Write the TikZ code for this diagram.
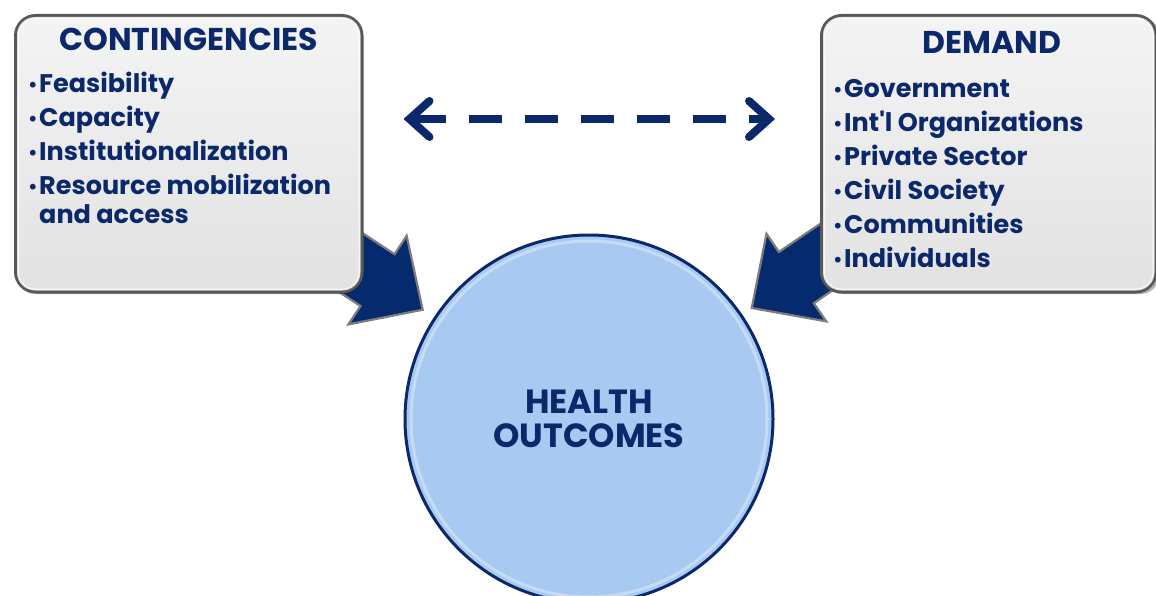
\documentclass[tikz,border=0pt]{standalone}
\usepackage{fontspec}
\setmainfont{Poppins}
\usetikzlibrary{arrows.meta,calc}
\definecolor{navy}{RGB}{10,40,106}
\definecolor{arrowfill}{RGB}{6,42,110}
\definecolor{arrowedge}{RGB}{125,125,125}
\definecolor{panelborder}{RGB}{88,88,88}
\definecolor{paneltop}{RGB}{244,244,244}
\definecolor{panelbot}{RGB}{226,226,226}
\definecolor{circfill}{RGB}{168,201,241}
\newcommand\bul{\llap{{\fontsize{19}{19}\selectfont\raisebox{1pt}{•}}\hspace{1.5pt}}}
\newcommand\firstline{\rule{0pt}{22pt}}
\begin{document}
\begin{tikzpicture}[x=1pt,y=1pt,
  txt/.style={text=navy},
  titlefont/.style={font=\bfseries\fontsize{31.5}{31.5}\selectfont},
  listfont/.style={font=\bfseries\fontsize{25.5}{34}\selectfont},
  panel/.style={draw=panelborder, line width=3.5pt, rounded corners=20pt,
    top color=paneltop, bottom color=panelbot, inner sep=0pt, anchor=north west},
  panelshadow/.style={fill=black, opacity=0.3, rounded corners=20pt},
  bevel/.style={draw=white, opacity=0.75, line width=2pt, rounded corners=17pt},
  fatarrow/.style={fill=arrowfill, draw=arrowedge, line width=2.2pt, line join=miter},
  hub/.style={circle, draw=navy, line width=3pt, fill=circfill, minimum size=368pt,
    text=navy, align=center, font=\bfseries\fontsize{33.5}{34}\selectfont},
  dasharrow/.style={draw=navy, line width=8pt, dash pattern=on 33pt off 23pt,
    {Straight Barb[length=20pt,width=36pt,line cap=round]}-{Straight Barb[length=20pt,width=36pt,line cap=round]}}
]
\useasboundingbox (0,0) rectangle (1156,-596);

\coordinate (hc) at (589,-419);

% fat arrows (behind the panels)
\coordinate (ltip) at ($(hc)+(146.7:199)$);
\coordinate (rtip) at ($(hc)+(34.3:197)$);
\begin{scope}[shift={(ltip)}, rotate=-33.3]
  \draw[fatarrow] (0,0) -- (-54,53) -- (-54,31) -- (-230,31) -- (-230,-31) -- (-54,-31) -- (-54,-53) -- cycle;
\end{scope}
\begin{scope}[shift={(rtip)}, rotate=214.3]
  \draw[fatarrow] (0,0) -- (-54,53) -- (-54,31) -- (-230,31) -- (-230,-31) -- (-54,-31) -- (-54,-53) -- cycle;
\end{scope}

% circle
\node[hub] (health) at (hc) {HEALTH\\OUTCOMES};
\draw[white, opacity=0.35, line width=3pt] (health.center) circle (178pt);

% panels
\fill[panelshadow] (16,-17) rectangle (363,-294);
\node[panel, minimum width=346pt, minimum height=276pt] (cont) at (14,-14) {};
\draw[bevel] ($(cont.north west)+(4,-4)$) rectangle ($(cont.south east)+(-4,4)$);

\fill[panelshadow] (822,-17) rectangle (1160,-294);
\node[panel, minimum width=334pt, minimum height=276pt] (dem) at (820,-14) {};
\draw[bevel] ($(dem.north west)+(4,-4)$) rectangle ($(dem.south east)+(-4,4)$);

% panel texts
\node[txt, titlefont, anchor=base] (conttitle) at ($(cont.north)+(0,-37)$) {CONTINGENCIES};
\node[txt, listfont, anchor=north west, align=left, inner sep=0pt] (contlist) at ($(cont.north west)+(25,-78+22)$)
  {\firstline\bul Feasibility\\ \bul Capacity\\ \bul Institutionalization\\ \bul Resource mobilization\\[-5pt] and access};

\node[txt, titlefont, anchor=base] (demtitle) at ($(dem.north)+(3,-40)$) {DEMAND};
\node[txt, listfont, anchor=north west, align=left, inner sep=0pt] (demlist) at ($(dem.north west)+(24,-83+22)$)
  {\firstline\bul Government\\ \bul Int\textquotesingle l Organizations\\ \bul Private Sector\\ \bul Civil Society\\ \bul Communities\\ \bul Individuals};

% dashed two-way connector
\coordinate (dl) at ($(cont.north east)+(40,-105)$);
\coordinate (dr) at ($(dem.north west)+(-45,-105)$);
\draw[dasharrow] (dl) -- (dr);
\end{tikzpicture}
\end{document}
